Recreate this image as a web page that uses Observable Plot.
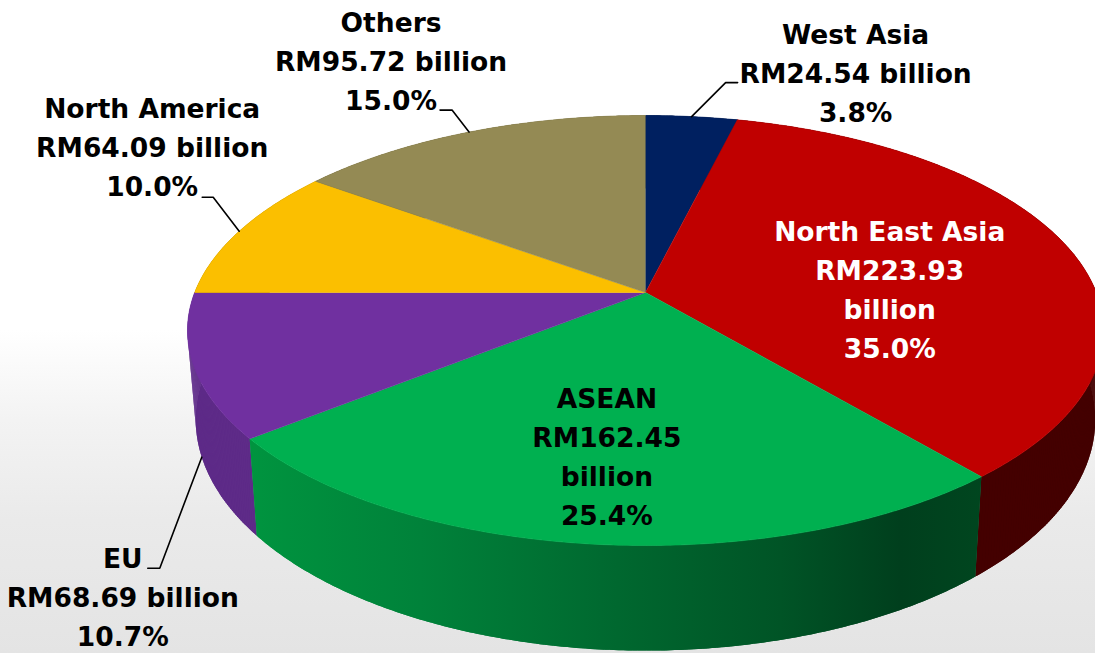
<!DOCTYPE html>
<html>
<head>
<meta charset="utf-8">
<script src="https://cdn.jsdelivr.net/npm/d3@7"></script>
<script src="https://cdn.jsdelivr.net/npm/@observablehq/plot@0.6"></script>
<style>
  html, body { margin: 0; padding: 0; }
  body {
    width: 1095px; height: 653px; overflow: hidden;
    background: linear-gradient(180deg, #ffffff 0px, #ffffff 330px, #f3f3f3 420px, #eaeaea 520px, #e4e4e4 653px);
  }
  svg { display: block; }
</style>
</head>
<body>
<script>
// ---- data ----
const regions = ["West Asia", "North East Asia", "ASEAN", "EU", "North America", "Others"];
const values = [24.54, 223.93, 162.45, 68.69, 64.09, 95.72]; // RM billion
const currency = "RM";
const unit = "billion";

// ---- styles ----
const topColors = {
  "West Asia": "#002060", "North East Asia": "#C00000", "ASEAN": "#00B050",
  "EU": "#7030A0", "North America": "#FBBF00", "Others": "#948A54"
};
const sideColors = {
  "West Asia": "#00143c", "North East Asia": "#440000", "ASEAN": "url(#aseanSide)",
  "EU": "#5E2B88", "North America": "#9c7800", "Others": "#5c5634"
};
const greenStops = [[250, "#00943f"], [420, "#00823a"], [600, "#006a30"], [780, "#005426"], [900, "#003f1d"], [985, "#00461f"]];

// ---- 3D perspective pie geometry (screen projection of a tilted disc) ----
const G = { cx: 645, apexY: 292, A: 450.8, B: 208.3, k: -0.1768, apexYb: 378, Ab: 442.7, Bb: 224 };
function proj(theta, r, face) {
  const u = r * Math.sin(theta), v = -r * Math.cos(theta);
  const d = 1 + G.k * v;
  if (face === "bottom") return [G.cx + G.Ab * u / d, G.apexYb + G.Bb * v / d];
  return [G.cx + G.A * u / d, G.apexY + G.B * v / d];
}

const total = d3.sum(values);
const arcs = d3.pie().sort(null).value(d => d.value)(regions.map((name, i) => ({ name, value: values[i] })));

const step = Math.PI / 360;
const topRows = [];
const sideGroups = [];
arcs.forEach((a, i) => {
  const name = a.data.name;
  const n = Math.max(2, Math.ceil((a.endAngle - a.startAngle) / step));
  const ts = d3.range(n + 1).map(j => a.startAngle + (a.endAngle - a.startAngle) * j / n);
  topRows.push({ id: "t" + i, x: G.cx, y: G.apexY, c: topColors[name] });
  ts.forEach(t => { const [x, y] = proj(t, 1, "top"); topRows.push({ id: "t" + i, x, y, c: topColors[name] }); });
  // side band: top arc forward + bottom arc backward, plus thin quads to fill the silhouette fold
  const c = sideColors[name];
  const rows = [];
  const band = [...ts.map(t => proj(t, 1, "top")), ...ts.slice().reverse().map(t => proj(t, 1, "bottom"))];
  band.forEach(([x, y]) => rows.push({ id: `b${i}`, x, y, c }));
  for (let j = 0; j < n; j++) {
    const q = [proj(ts[j], 1, "top"), proj(ts[j + 1], 1, "top"), proj(ts[j + 1], 1, "bottom"), proj(ts[j], 1, "bottom")];
    q.forEach(([x, y]) => rows.push({ id: `q${i}_${j}`, x, y, c }));
  }
  const key = d3.max(ts, t => -Math.cos(t));
  sideGroups.push({ key, rows });
});
sideGroups.sort((a, b) => a.key - b.key);
const sideRows = sideGroups.flatMap(g => g.rows);

// ---- labels & leader lines (layout) ----
const layout = {
  "West Asia":       { edge: "top",    elbow: [34, -34],  tail: 12,  text: [130, -39], split: false, color: "#000" },
  "North East Asia": { inside: 0.55,                                text: [8, -26.5],  split: true,  color: "#fff" },
  "ASEAN":           { inside: 0.6,                                 text: [-9, -24],   split: true,  color: "#000" },
  "EU":              { edge: "bottom", elbow: [-42, 111], tail: -12, text: [-37, 0],   split: false, color: "#000" },
  "North America":   { edge: "top",    elbow: [-26, -34], tail: -11, text: [-61, -79], split: false, color: "#000" },
  "Others":          { edge: "top",    elbow: [-17, -22], tail: -12, text: [-61, -78], split: false, color: "#000" }
};
const lineGap = 39, fontSize = 26.5;
const leaderRows = [];
const textRows = [];
arcs.forEach((a, i) => {
  const name = a.data.name, L = layout[name];
  const mid = (a.startAngle + a.endAngle) / 2;
  let ref;
  if (L.inside) {
    ref = proj(mid, L.inside, "top");
  } else {
    const s = proj(mid, 1, L.edge);
    const e = [s[0] + L.elbow[0], s[1] + L.elbow[1]];
    const t = [e[0] + L.tail, e[1]];
    [s, e, t].forEach(([x, y]) => leaderRows.push({ id: "l" + i, x, y }));
    ref = e;
  }
  const pct = (a.data.value / total * 100).toFixed(1) + "%";
  const val = currency + a.data.value.toFixed(2);
  const lines = L.split ? [name, val, unit, pct] : [name, val + " " + unit, pct];
  const x0 = ref[0] + L.text[0], b0 = ref[1] + L.text[1];
  lines.forEach((txt, j) => textRows.push({ x: x0, y: b0 + j * lineGap - 0.32 * fontSize, text: txt, c: L.color }));
});

function gradientDefs() {
  const defs = d3.create("svg:defs");
  const g = defs.append("linearGradient").attr("id", "aseanSide")
    .attr("gradientUnits", "userSpaceOnUse")
    .attr("x1", greenStops[0][0]).attr("x2", greenStops[greenStops.length - 1][0])
    .attr("y1", 0).attr("y2", 0);
  const x0 = greenStops[0][0], x1 = greenStops[greenStops.length - 1][0];
  greenStops.forEach(([x, col]) => g.append("stop").attr("offset", (x - x0) / (x1 - x0)).attr("stop-color", col));
  return defs.node();
}

const chart = Plot.plot({
  width: 1095, height: 653, margin: 0,
  x: { type: "linear", domain: [0, 1095], range: [0, 1095], axis: null },
  y: { type: "linear", domain: [0, 653], range: [0, 653], axis: null },
  color: { type: "identity" },
  style: { background: "transparent", overflow: "visible" },
  marks: [
    gradientDefs,
    Plot.line(sideRows, { x: "x", y: "y", z: "id", fill: "c", stroke: "none", curve: "linear" }),
    Plot.line(topRows, { x: "x", y: "y", z: "id", fill: "c", stroke: "c", strokeWidth: 0.6, curve: "linear" }),
    Plot.line(leaderRows, { x: "x", y: "y", z: "id", stroke: "#000", strokeWidth: 1.6, strokeLinejoin: "miter", curve: "linear" }),
    Plot.text(textRows, { x: "x", y: "y", text: "text", fill: "c", fontSize, fontWeight: "bold",
      fontFamily: "DejaVu Sans", textAnchor: "middle", lineAnchor: "middle" })
  ]
});
document.body.appendChild(chart);
</script>
</body>
</html>
